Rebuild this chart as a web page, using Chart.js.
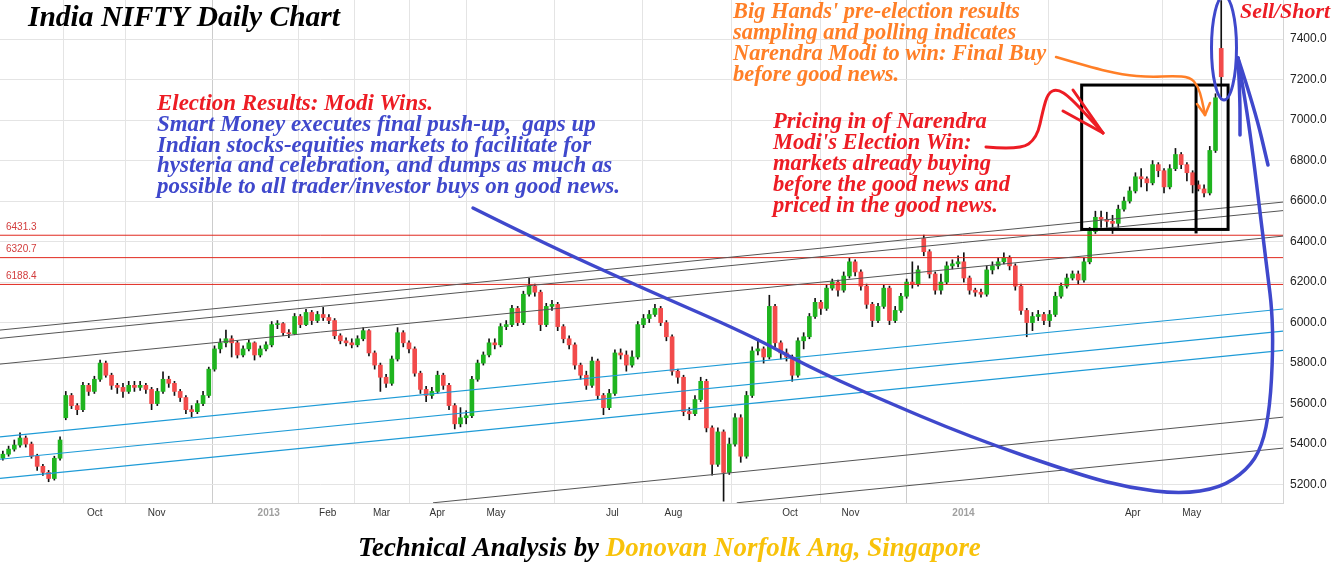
<!DOCTYPE html>
<html>
<head>
<meta charset="utf-8">
<title>India NIFTY Daily Chart</title>
<script src="https://cdn.jsdelivr.net/npm/chart.js@4.4.1/dist/chart.umd.min.js"></script>
<style>
  html, body { margin: 0; padding: 0; background: #fff; }
  #wrap { width: 1343px; height: 573px; position: relative; }
</style>
</head>
<body>
<div id="wrap"><canvas id="niftyChart"></canvas></div>
<script>
// NIFTY candles, one per two trading days (Aug 2012 - 16 May 2014)
const closes = [
  5350, 5375, 5395, 5430, 5400, 5340, 5290, 5260, 5230, 5330,
  5420, 5640, 5590, 5570, 5690, 5660, 5720, 5800, 5740, 5690,
  5680, 5660, 5690, 5680, 5690, 5670, 5600, 5660, 5720, 5700,
  5660, 5630, 5570, 5560, 5600, 5640, 5770, 5870, 5900, 5920,
  5900, 5840, 5870, 5900, 5840, 5870, 5890, 5990, 5995, 5950,
  5945, 6030, 5990, 6050, 6010, 6040, 6025, 6010, 5935, 5910,
  5900, 5890, 5920, 5960, 5850, 5790, 5730, 5700, 5820, 5950,
  5900, 5870, 5750, 5670, 5640, 5660, 5740, 5690, 5590, 5500,
  5530, 5540, 5720, 5800, 5840, 5900, 5890, 5980, 5990, 6070,
  6000, 6140, 6180, 6150, 5990, 6080, 6090, 5980, 5920, 5890,
  5790, 5740, 5690, 5810, 5640, 5580, 5650, 5850, 5840, 5790,
  5830, 5990, 6020, 6040, 6070, 6000, 5930, 5760, 5730, 5560,
  5550, 5620, 5710, 5480, 5300, 5460, 5260, 5400, 5530, 5340,
  5640, 5860, 5870, 5830, 6080, 5900, 5850, 5830, 5740, 5910,
  5930, 6030, 6100, 6070, 6170, 6200, 6160, 6230, 6300, 6250,
  6180, 6090, 6010, 6080, 6170, 6010, 6060, 6130, 6200, 6190,
  6260, 6350, 6240, 6160, 6200, 6280, 6290, 6300, 6220, 6160,
  6150, 6140, 6260, 6280, 6300, 6320, 6280, 6180, 6060, 6000,
  6030, 6040, 6010, 6040, 6130, 6180, 6220, 6240, 6210, 6300,
  6450, 6520, 6510, 6500, 6490, 6560, 6600, 6650, 6720, 6710,
  6690, 6780, 6750, 6670, 6760, 6830, 6780, 6740, 6680, 6660,
  6640, 6850, 7110, 7214
];
const highs = [
  5365, 5390, 5420, 5455, 5440, 5410, 5350, 5300, 5270, 5340,
  5436, 5660, 5650, 5600, 5705, 5700, 5735, 5815, 5810, 5750,
  5700, 5700, 5710, 5710, 5710, 5700, 5680, 5675, 5757, 5735,
  5710, 5670, 5640, 5590, 5615, 5660, 5780, 5885, 5920, 5963,
  5935, 5910, 5885, 5915, 5905, 5885, 5905, 6005, 6010, 6000,
  5965, 6045, 6040, 6065, 6060, 6055, 6075, 6040, 6020, 5945,
  5925, 5920, 5935, 5975, 5965, 5860, 5800, 5745, 5835, 5975,
  5960, 5910, 5880, 5760, 5685, 5680, 5760, 5750, 5700, 5600,
  5580, 5565, 5735, 5815, 5855, 5920, 5920, 5995, 6010, 6085,
  6080, 6155, 6218, 6190, 6160, 6095, 6110, 6100, 5990, 5935,
  5900, 5800, 5760, 5830, 5820, 5650, 5670, 5865, 5870, 5860,
  5860, 6005, 6040, 6060, 6090, 6080, 6010, 5940, 5770, 5740,
  5580, 5640, 5730, 5720, 5490, 5480, 5470, 5430, 5550, 5545,
  5660, 5880, 5920, 5880, 6135, 6090, 5910, 5870, 5840, 5925,
  5950, 6045, 6120, 6110, 6185, 6215, 6210, 6250, 6317, 6310,
  6260, 6190, 6100, 6095, 6185, 6180, 6080, 6145, 6215, 6300,
  6280, 6432, 6360, 6250, 6240, 6300, 6310, 6330, 6345, 6230,
  6170, 6165, 6280, 6300, 6320, 6345, 6330, 6290, 6190, 6070,
  6050, 6060, 6050, 6060, 6150, 6195, 6240, 6255, 6255, 6320,
  6470, 6550, 6550, 6545, 6530, 6580, 6620, 6670, 6740, 6760,
  6720, 6800, 6790, 6760, 6780, 6860, 6840, 6790, 6750, 6700,
  6680, 6870, 7130, 7590
];
const lows = [
  5320, 5340, 5365, 5385, 5385, 5330, 5270, 5245, 5214, 5222,
  5320, 5520, 5575, 5545, 5560, 5640, 5650, 5710, 5730, 5670,
  5650, 5630, 5650, 5660, 5665, 5650, 5570, 5590, 5650, 5680,
  5640, 5610, 5550, 5535, 5550, 5590, 5630, 5760, 5850, 5880,
  5830, 5825, 5830, 5860, 5815, 5830, 5860, 5880, 5970, 5935,
  5925, 5940, 5975, 5985, 5990, 6000, 6010, 5995, 5920, 5895,
  5885, 5875, 5880, 5910, 5835, 5770, 5660, 5680, 5690, 5810,
  5880, 5850, 5735, 5650, 5610, 5625, 5650, 5670, 5570, 5475,
  5485, 5500, 5530, 5710, 5790, 5830, 5870, 5880, 5965, 5980,
  5985, 5990, 6130, 6130, 5960, 5980, 6060, 5960, 5900, 5870,
  5770, 5720, 5670, 5680, 5620, 5545, 5570, 5640, 5820, 5760,
  5780, 5820, 5975, 6000, 6030, 5985, 5910, 5740, 5700, 5540,
  5520, 5540, 5610, 5460, 5247, 5290, 5118, 5250, 5390, 5310,
  5330, 5630, 5840, 5800, 5820, 5880, 5820, 5810, 5710, 5730,
  5870, 5920, 6020, 6040, 6060, 6160, 6130, 6150, 6220, 6230,
  6160, 6070, 5980, 6000, 6070, 5990, 6000, 6050, 6120, 6170,
  6180, 6330, 6220, 6140, 6140, 6190, 6265, 6275, 6200, 6140,
  6130, 6125, 6130, 6240, 6265, 6290, 6260, 6160, 6040, 5930,
  5960, 6010, 5990, 5980, 6030, 6120, 6170, 6210, 6190, 6200,
  6290, 6440, 6470, 6470, 6440, 6470, 6550, 6590, 6640, 6670,
  6650, 6680, 6720, 6640, 6660, 6750, 6760, 6700, 6640, 6650,
  6620, 6630, 6840, 7100
];
// candles that open away from the previous close: [candle, open]
const gapOpens = [[0, 5330], [11, 5530], [161, 6415], [213, 7354]];

// x axis: month marks (in candle units) and their labels
const monthTickPos = [16.06, 26.9, 46.48, 56.79, 66.2, 75.95, 86.21, 106.56, 117.24, 137.6, 148.19, 167.94, 197.52, 207.84];
const monthTickLabels = ['Oct', 'Nov', '2013', 'Feb', 'Mar', 'Apr', 'May', 'Jul', 'Aug', 'Oct', 'Nov', '2014', 'Apr', 'May'];
const priceTicks = [5200, 5400, 5600, 5800, 6000, 6200, 6400, 6600, 6800, 7000, 7200, 7400];

// horizontal support/resistance levels
const levelPrices = [6431.3, 6320.7, 6188.4];

// trend channels: [startCandle, startPrice, endCandle, endPrice]
const blackLines = [
  [-0.5, 5963, 223.8, 6595],
  [-0.5, 5922, 223.8, 6553],
  [-0.5, 5795, 223.8, 6427],
  [75.2, 5110, 223.8, 5533],
  [128.3, 5110, 223.8, 5380]
];
const blueLines = [
  [-0.5, 5436, 223.8, 6067],
  [-0.5, 5325, 223.8, 5958],
  [-0.5, 5231, 223.8, 5863]
];

// the consolidation box: [leftCandle, rightCandle, topPrice, bottomPrice, splitCandle]
const boxSpan = [188.6, 214.2, 7173, 6460, 208.6];

const GREEN = '#1fb41f';
const RED = '#f24b4b';

const opens = closes.map((c, i) => i === 0 ? c : closes[i - 1]);
gapOpens.forEach(g => { opens[g[0]] = g[1]; });

const wickData = closes.map((c, i) => ({ x: i, y: [lows[i], highs[i]] }));
const bodyData = closes.map((c, i) => ({ x: i, y: [opens[i], c] }));
const bodyColors = closes.map((c, i) => c >= opens[i] ? GREEN : RED);

function segment(l, color, width) {
  return {
    type: 'line',
    data: [{ x: l[0], y: l[1] }, { x: l[2], y: l[3] }],
    borderColor: color,
    borderWidth: width,
    pointRadius: 0,
    fill: false,
    order: 1
  };
}

const datasets = [
  { type: 'bar', data: wickData, backgroundColor: '#111', barThickness: 1, grouped: false, order: 3 },
  { type: 'bar', data: bodyData, backgroundColor: bodyColors, barThickness: 4, grouped: false, order: 2 }
];
blackLines.forEach(l => datasets.push(segment(l, '#555', 1)));
blueLines.forEach(l => datasets.push(segment(l, '#1e9bd7', 1.2)));
levelPrices.forEach(v => datasets.push(segment([-0.5, v, 223.8, v], '#e0281e', 1)));

// freehand marks, in canvas pixels
const blueSwoop = [[473, 208], [537, 240], [640, 287], [750, 335], [807, 366], [873, 396], [970, 437],
  [1080, 475], [1130, 488], [1180, 494], [1220, 488], [1247, 470], [1262, 447], [1270, 407],
  [1273, 350], [1272, 310], [1268, 277], [1263, 237], [1250, 130], [1238, 58]];
const redArrow = [[986, 147], [1020, 150], [1037, 138], [1043, 110], [1048, 93], [1057, 89], [1070, 97], [1103, 133]];
const orangeArrow = [[1056, 57], [1090, 67], [1123, 75], [1150, 77], [1173, 76], [1190, 77], [1198, 86], [1202, 100], [1205, 115]];

function smoothPath(ctx, pts) {
  ctx.beginPath();
  ctx.moveTo(pts[0][0], pts[0][1]);
  for (let i = 1; i < pts.length - 1; i++) {
    const mx = (pts[i][0] + pts[i + 1][0]) / 2;
    const my = (pts[i][1] + pts[i + 1][1]) / 2;
    ctx.quadraticCurveTo(pts[i][0], pts[i][1], mx, my);
  }
  const last = pts[pts.length - 1];
  ctx.lineTo(last[0], last[1]);
  ctx.stroke();
}

function strokeLine(ctx, a, b) {
  ctx.beginPath();
  ctx.moveTo(a[0], a[1]);
  ctx.lineTo(b[0], b[1]);
  ctx.stroke();
}

const SCRIPT = '"Liberation Serif", "DejaVu Serif", serif';

function fitSize(ctx, text, width) {
  ctx.font = 'italic bold 20px ' + SCRIPT;
  return 20 * width / ctx.measureText(text).width;
}

// lines: [[text, color], ...]; fitLine is the index of the line whose width is known
function drawBlock(ctx, lines, x, y, lh, fitLine, width) {
  const size = fitSize(ctx, lines[fitLine][0], width);
  ctx.font = 'italic bold ' + size.toFixed(2) + 'px ' + SCRIPT;
  ctx.textBaseline = 'alphabetic';
  ctx.textAlign = 'left';
  lines.forEach((l, i) => {
    ctx.fillStyle = l[1];
    ctx.fillText(l[0], x, y + i * lh);
  });
}

const drawings = {
  id: 'drawings',
  afterDatasetsDraw(chart) {
    const { ctx, scales: { x, y } } = chart;
    ctx.save();

    // level labels
    ctx.font = '10px Arial, "Liberation Sans", sans-serif';
    ctx.fillStyle = '#d23c3c';
    ctx.textBaseline = 'bottom';
    levelPrices.forEach(v => ctx.fillText(v.toFixed(1), 6, y.getPixelForValue(v) - 3));

    // box
    ctx.strokeStyle = '#000';
    ctx.lineWidth = 3;
    const bl = x.getPixelForValue(boxSpan[0]);
    const br = x.getPixelForValue(boxSpan[1]);
    const bt = y.getPixelForValue(boxSpan[2]);
    const bb = y.getPixelForValue(boxSpan[3]);
    ctx.strokeRect(bl, bt, br - bl, bb - bt);
    const bs = x.getPixelForValue(boxSpan[4]);
    strokeLine(ctx, [bs, bt], [bs, bb + 4]);

    ctx.lineCap = 'round';
    ctx.lineJoin = 'round';

    // red arrow
    ctx.strokeStyle = '#ed1c24';
    ctx.lineWidth = 3;
    smoothPath(ctx, redArrow);
    strokeLine(ctx, [1073, 90], [1103, 133]);
    strokeLine(ctx, [1063, 111], [1103, 133]);

    // orange arrow
    ctx.strokeStyle = '#ff7f27';
    ctx.lineWidth = 2.5;
    smoothPath(ctx, orangeArrow);
    strokeLine(ctx, [1197, 104], [1205, 115]);
    strokeLine(ctx, [1210, 103], [1205, 115]);

    // blue swoop, tip strokes and ellipse
    ctx.strokeStyle = '#3f48cc';
    ctx.lineWidth = 3.5;
    smoothPath(ctx, blueSwoop);
    smoothPath(ctx, [[1238, 58], [1240, 95], [1240, 135]]);
    smoothPath(ctx, [[1238, 58], [1255, 110], [1268, 165]]);
    ctx.lineWidth = 3;
    ctx.beginPath();
    ctx.ellipse(1224, 48, 12.5, 52, 0, 0, Math.PI * 2);
    ctx.stroke();

    ctx.restore();
  },
  afterDraw(chart) {
    const ctx = chart.ctx;
    ctx.save();
    drawBlock(ctx, [['India NIFTY Daily Chart', '#000']], 28, 26, 0, 0, 312);

    drawBlock(ctx, [
      ['Election Results: Modi Wins.', '#ed1c24'],
      ['Smart Money executes final push-up,  gaps up', '#3f48cc'],
      ['Indian stocks-equities markets to facilitate for', '#3f48cc'],
      ['hysteria and celebration, and dumps as much as', '#3f48cc'],
      ['possible to all trader/investor buys on good news.', '#3f48cc']
    ], 157, 110, 20.8, 4, 463);

    drawBlock(ctx, [
      ["Big Hands' pre-election results", '#ff7f27'],
      ['sampling and polling indicates', '#ff7f27'],
      ['Narendra Modi to win: Final Buy', '#ff7f27'],
      ['before good news.', '#ff7f27']
    ], 733, 18.3, 20.9, 0, 287);

    drawBlock(ctx, [
      ['Pricing in of Narendra', '#ed1c24'],
      ["Modi's Election Win:", '#ed1c24'],
      ['markets already buying', '#ed1c24'],
      ['before the good news and', '#ed1c24'],
      ['priced in the good news.', '#ed1c24']
    ], 773, 128.3, 20.8, 3, 237);

    drawBlock(ctx, [['Sell/Short', '#ed1c24']], 1240, 18.3, 0, 0, 90);

    // credit line, two colours
    const first = 'Technical Analysis by ';
    const second = 'Donovan Norfolk Ang, Singapore';
    const size = fitSize(ctx, first + second, 623);
    ctx.font = 'italic bold ' + size.toFixed(2) + 'px ' + SCRIPT;
    ctx.fillStyle = '#000';
    ctx.fillText(first, 358, 556);
    const w = ctx.measureText(first).width;
    ctx.fillStyle = '#f8c20a';
    ctx.fillText(second, 358 + w, 556);
    ctx.restore();
  }
};

const isYear = i => /^\d{4}$/.test(monthTickLabels[i] || '');

new Chart(document.getElementById('niftyChart'), {
  type: 'bar',
  data: { datasets: datasets },
  options: {
    responsive: true,
    maintainAspectRatio: false,
    animation: false,
    layout: { padding: 0 },
    plugins: {
      legend: { display: false },
      tooltip: { enabled: false },
      title: { display: false }
    },
    scales: {
      x: {
        type: 'linear',
        min: -0.5,
        max: 223.8,
        offset: false,
        afterBuildTicks: s => { s.ticks = monthTickPos.map(v => ({ value: v })); },
        afterFit: s => { s.height = 70; s.paddingLeft = 0; s.paddingRight = 0; },
        grid: {
          drawTicks: false,
          color: c => (c.type === 'tick' && isYear(c.index)) ? '#cccccc' : '#e4e4e4'
        },
        border: { color: '#d4d4d4' },
        ticks: {
          autoSkip: false,
          maxRotation: 0,
          padding: 4,
          callback: (v, i) => monthTickLabels[i],
          color: c => isYear(c.index) ? '#a0a0a0' : '#333',
          font: c => ({ family: 'Arial, "Liberation Sans", sans-serif', size: 10, weight: isYear(c.index) ? 'bold' : 'normal' })
        }
      },
      y: {
        type: 'linear',
        position: 'right',
        min: 5109,
        max: 7593,
        afterBuildTicks: s => { s.ticks = priceTicks.map(v => ({ value: v })); },
        afterFit: s => { s.width = 60; s.paddingTop = 0; s.paddingBottom = 0; },
        grid: { drawTicks: false, color: '#e4e4e4' },
        border: { color: '#d4d4d4' },
        ticks: {
          padding: 7,
          color: '#222',
          font: { family: 'Arial, "Liberation Sans", sans-serif', size: 12 },
          callback: v => Number(v).toFixed(1)
        }
      }
    }
  },
  plugins: [drawings]
});
</script>
</body>
</html>
